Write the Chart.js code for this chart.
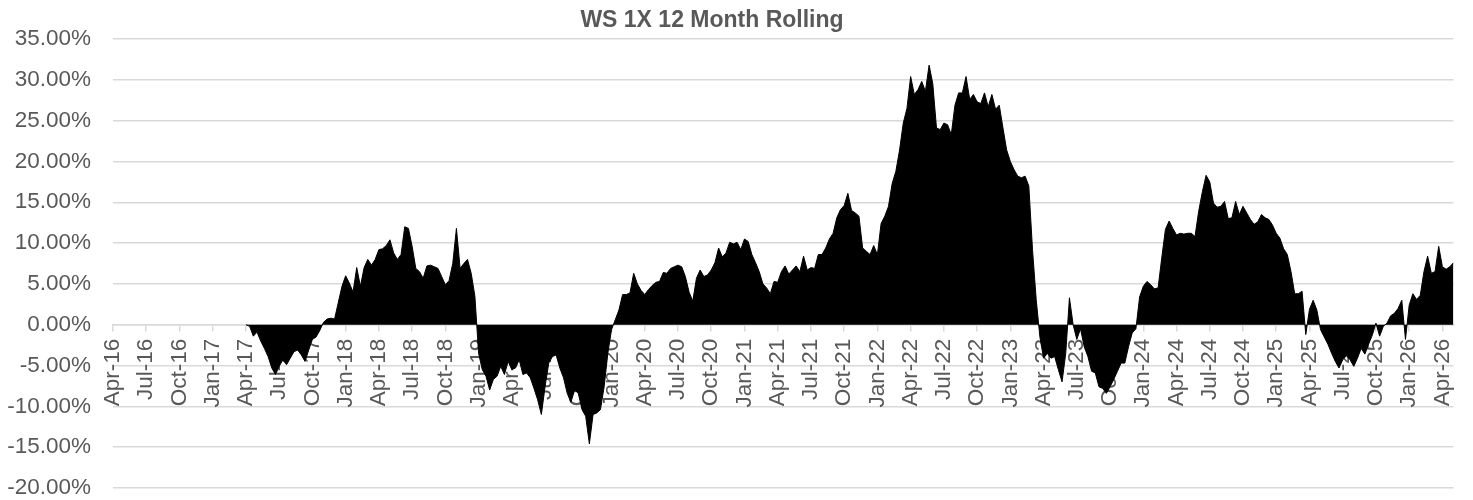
<!DOCTYPE html>
<html>
<head>
<meta charset="utf-8">
<title>WS 1X 12 Month Rolling</title>
<script src="https://cdn.jsdelivr.net/npm/chart.js@4"></script>
<style>
  body { margin: 0; background: #fff; }
  .chart-wrap { width: 1473px; height: 500px; position: relative; }
</style>
</head>
<body>
<div class="chart-wrap"><canvas id="rollingChart"></canvas></div>
<script>
// rolling 12 month return (%), one value every third of a month, starting Apr-17
const startMonth = 12;   // months after Apr-16
const step = 1 / 3;

const fy2017 = [0, -0.2, -1.4, -0.9, -2.0, -2.9, -3.9, -5.3, -6.1, -5.1, -4.3, -4.9,
  -4.1, -3.3, -3.1, -3.7, -4.5, -3.1, -1.8, -1.5, -0.7, 0.3, 0.7, 0.8,
  0.7, 2.7, 4.7, 6.0, 5.1, 4.0, 7.0, 4.7, 7.0, 8.0, 7.3, 8.0];
const fy2018 = [9.2, 9.3, 9.7, 10.4, 8.8, 8.0, 8.6, 12.0, 11.8, 9.6, 6.9, 6.5,
  5.7, 7.2, 7.3, 7.1, 6.9, 5.9, 4.9, 5.4, 7.5, 11.8, 6.9, 7.5,
  8.0, 6.3, 3.5, -3.5, -5.5, -6.3, -8.0, -6.7, -6.3, -5.1, -6.1, -4.5];
const fy2019 = [-5.5, -5.3, -4.3, -6.1, -5.9, -6.5, -7.8, -9.2, -11.0, -7.6, -4.7, -3.9,
  -3.7, -5.3, -6.5, -8.4, -9.5, -8.0, -8.4, -10.4, -11.2, -14.6, -11.0, -10.8,
  -10.4, -7.6, -3.5, -0.6, 0.6, 1.8, 3.7, 3.7, 3.9, 6.3, 5.0, 4.2];
const fy2020 = [3.7, 4.3, 4.8, 5.2, 5.3, 6.4, 6.3, 6.9, 7.1, 7.3, 7.1, 5.9,
  4.0, 2.9, 5.7, 6.7, 5.9, 6.1, 6.7, 7.6, 9.4, 8.3, 8.8, 10.1,
  9.9, 10.1, 9.2, 10.5, 10.2, 8.6, 7.6, 6.5, 5.0, 4.5, 3.8, 5.3];
const fy2021 = [5.2, 6.5, 7.2, 6.2, 6.7, 7.2, 6.5, 8.4, 6.7, 7.0, 6.9, 8.6,
  8.6, 9.4, 10.5, 11.2, 13.1, 14.1, 14.6, 16.1, 14.0, 13.7, 13.3, 9.4,
  9.0, 8.6, 9.7, 8.6, 12.4, 13.3, 14.5, 17.3, 18.8, 21.4, 24.7, 26.5];
const fy2022 = [30.4, 28.2, 28.8, 29.8, 28.6, 31.8, 29.5, 24.1, 23.9, 24.7, 24.5, 23.3,
  26.9, 28.4, 28.4, 30.4, 27.6, 28.2, 27.3, 27.1, 28.4, 26.7, 28.2, 26.4,
  26.9, 24.1, 21.4, 20.0, 19.0, 18.2, 18.0, 18.2, 17.0, 9.2, 3.1, -1.5];
const fy2023 = [-4.1, -3.5, -4.1, -3.9, -5.5, -7.0, -3.5, 3.3, 0, -1.8, -0.5, -2.7,
  -3.9, -5.7, -5.9, -7.6, -7.8, -8.4, -7.6, -6.7, -5.7, -4.7, -4.7, -2.7,
  -1.0, -0.5, 3.4, 4.7, 5.3, 4.9, 4.4, 4.5, 8.2, 11.7, 12.7, 11.8];
const fy2024 = [11.0, 11.2, 11.1, 11.2, 11.2, 10.8, 13.9, 16.3, 18.3, 17.5, 14.9, 14.4,
  14.5, 15.1, 13.0, 13.1, 15.1, 13.5, 14.5, 13.7, 12.9, 12.3, 12.6, 13.5,
  13.1, 12.9, 12.2, 11.2, 10.6, 9.3, 8.6, 6.5, 3.8, 3.8, 4.1, -1.2];
const fy2025 = [1.9, 3.0, 1.8, -0.6, -1.5, -2.4, -3.5, -4.5, -5.3, -4.3, -3.8, -4.3,
  -5.1, -4.1, -2.9, -3.6, -2.4, -1.3, 0.2, -1.4, -0.2, 0.2, 1.1, 1.4,
  2.0, 3.0, -1.8, 2.4, 3.8, 3.1, 3.6, 6.5, 8.4, 6.3, 6.5, 9.6];
const fy2026 = [7.1, 6.8, 7.1, 7.6];

const tickLabels = ['Apr-16', 'Jul-16', 'Oct-16', 'Jan-17', 'Apr-17', 'Jul-17', 'Oct-17', 'Jan-18',
  'Apr-18', 'Jul-18', 'Oct-18', 'Jan-19', 'Apr-19', 'Jul-19', 'Oct-19', 'Jan-20',
  'Apr-20', 'Jul-20', 'Oct-20', 'Jan-21', 'Apr-21', 'Jul-21', 'Oct-21', 'Jan-22',
  'Apr-22', 'Jul-22', 'Oct-22', 'Jan-23', 'Apr-23', 'Jul-23', 'Oct-23', 'Jan-24',
  'Apr-24', 'Jul-24', 'Oct-24', 'Jan-25', 'Apr-25', 'Jul-25', 'Oct-25', 'Jan-26', 'Apr-26'];

const titleText = 'WS 1X 12 Month Rolling';

const values = [].concat(fy2017, fy2018, fy2019, fy2020, fy2021, fy2022, fy2023, fy2024, fy2025, fy2026);
const points = values.map(function (v, i) {
  return { x: startMonth + i * step, y: v };
});

const textGrey = '#595959';
const gridGrey = '#d9d9d9';
const fontFamily = "'Liberation Sans', Arial, sans-serif";

// Excel-style title, a bit left of the plot centre
const titlePlugin = {
  id: 'sheetTitle',
  afterDraw: function (chart) {
    const ctx = chart.ctx;
    ctx.save();
    ctx.font = 'bold 23px ' + fontFamily;
    ctx.fillStyle = textGrey;
    ctx.textAlign = 'center';
    ctx.textBaseline = 'alphabetic';
    ctx.fillText(titleText, 712, 27);
    ctx.restore();
  }
};

const ctx = document.getElementById('rollingChart').getContext('2d');
new Chart(ctx, {
  type: 'line',
  data: {
    datasets: [{
      label: titleText,
      data: points,
      borderColor: '#000',
      backgroundColor: '#000',
      borderWidth: 1,
      fill: 'origin',
      pointRadius: 0,
      tension: 0
    }]
  },
  options: {
    responsive: true,
    maintainAspectRatio: false,
    animation: false,
    layout: { padding: { top: 39, right: 11, bottom: 12, left: 0 } },
    plugins: {
      legend: { display: false },
      tooltip: { enabled: false },
      title: { display: false }
    },
    scales: {
      x: {
        type: 'linear',
        position: { y: 0 },
        min: 0,
        max: 121,
        z: 1,
        afterBuildTicks: function (scale) {
          scale.ticks = tickLabels.map(function (_, i) { return { value: i * 3 }; });
        },
        grid: {
          drawOnChartArea: false,
          drawTicks: true,
          tickLength: 6,
          color: gridGrey,
          lineWidth: 1.5
        },
        border: { display: true, color: gridGrey, width: 1.5 },
        ticks: {
          autoSkip: false,
          minRotation: 90,
          maxRotation: 90,
          padding: 8,
          color: textGrey,
          font: { family: fontFamily, size: 22.5, lineHeight: 1 },
          callback: function (value) {
            return tickLabels[Math.round(value / 3)];
          }
        }
      },
      y: {
        min: -20,
        max: 35,
        afterFit: function (scale) {
          scale.width = 113;
          scale.paddingTop = 0;
          scale.paddingBottom = 0;
        },
        grid: {
          drawTicks: false,
          color: gridGrey,
          lineWidth: 1.5
        },
        border: { display: false },
        ticks: {
          stepSize: 5,
          padding: 22,
          color: textGrey,
          font: { family: fontFamily, size: 22.5, lineHeight: 1 },
          callback: function (v) { return v.toFixed(2) + '%'; }
        }
      }
    }
  },
  plugins: [titlePlugin]
});
</script>
</body>
</html>
